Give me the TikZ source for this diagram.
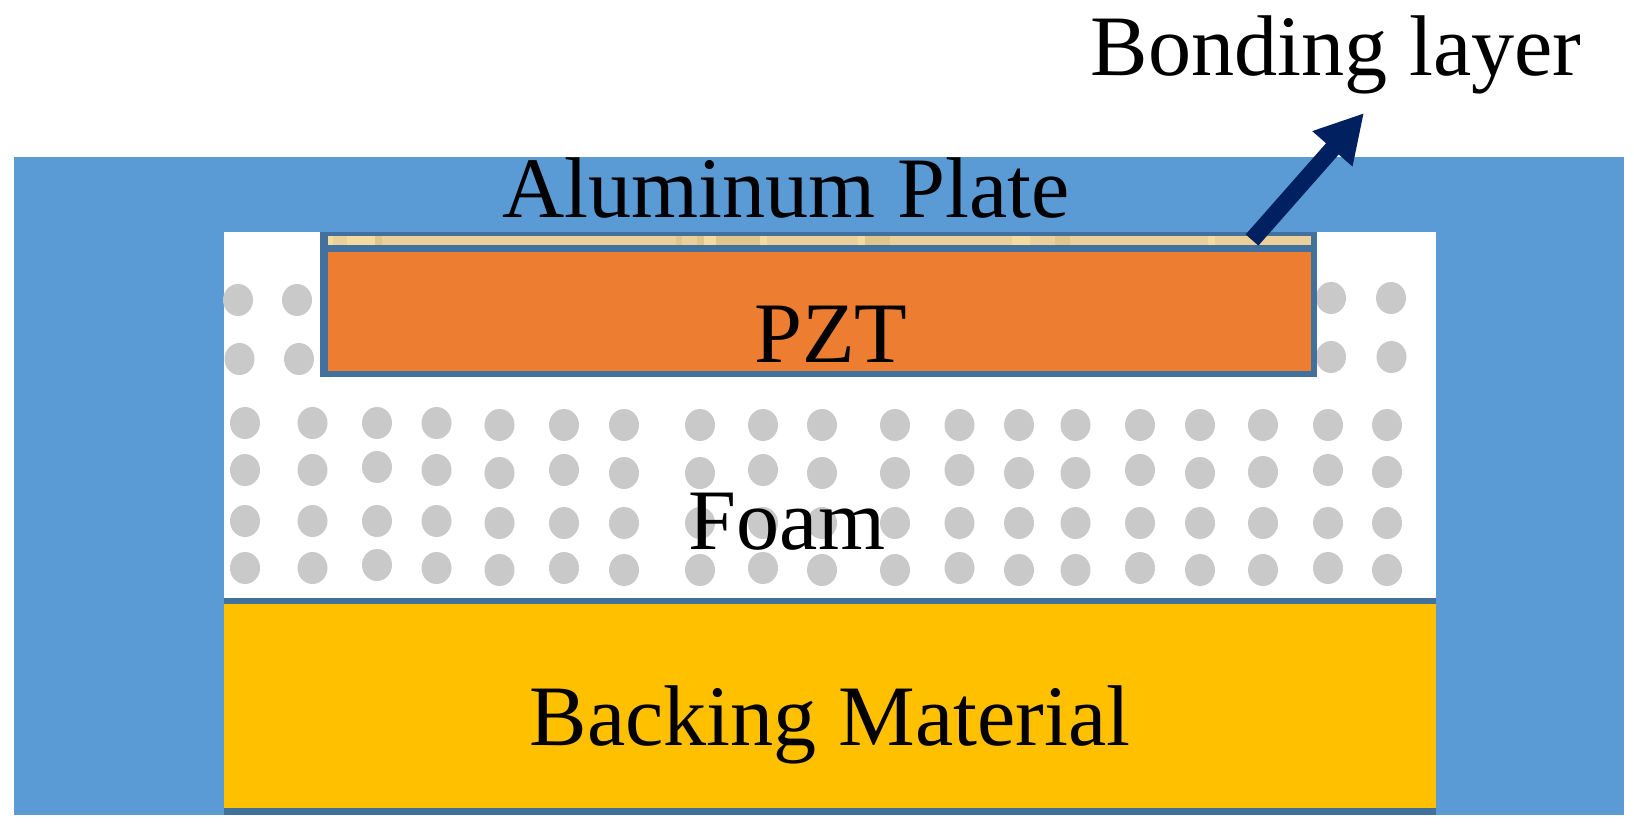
\documentclass[tikz,border=0pt]{standalone}
\usepackage{fontspec}
\setmainfont{Liberation Serif}
\usetikzlibrary{arrows.meta}
\definecolor{plateblue}{HTML}{5B9BD5}
\definecolor{edgeblue}{HTML}{41719C}
\definecolor{pztorange}{HTML}{ED7D31}
\definecolor{backyellow}{HTML}{FFC000}
\definecolor{bondtan}{HTML}{EBD09C}
\definecolor{bondlight}{HTML}{F4DCA0}
\definecolor{bonddark}{HTML}{E0C68C}
\definecolor{foamgray}{HTML}{C9C9C9}
\definecolor{arrownavy}{HTML}{002060}
\tikzset{
  layerlabel/.style={anchor=base,inner sep=0pt,font=\fontsize{24.5}{29}\selectfont},
  foamdot/.style={fill=foamgray},
  bondarrow/.style={draw=arrownavy,line width=4.8pt,-{Triangle[width=14.2pt,length=13.6pt]}}
}

\begin{document}
\begin{tikzpicture}[x=0.01cm,y=-0.01cm]
\useasboundingbox (0,0) rectangle (1634,824);
\fill[plateblue] (14,157) rectangle (1624,815);
\fill[white] (224,232) rectangle (1436,598);
% foam
\foreach \px/\py in {238/300,297/300,239.5/359,299/359,1331/298,1391/298,1331/357,1391.5/357}
  \fill[foamdot] (\px,\py) ellipse (15 and 16);
\foreach \px/\ya/\yb/\yc/\yd in {245/423/470/521/568,312.5/423/470/521/568,377/423/467/521/565,
    436.5/423/470/521/568,499.5/425/473/523/570,564/425/470/523/568,624/425/473/523/570,
    700/425/473/523/570,763/425/470/523/568,822/425/473/523/570,895/425/473/523/570,
    959.5/425/470/523/568,1019/425/473/523/570,1075.5/425/473/523/570,1140/425/470/523/568,
    1200/425/473/523/570,1263/425/472/523/570,1328/425/470/523/568,1387/425/472/523/570}
  \foreach \py in {\ya,\yb,\yc,\yd}
    \fill[foamdot] (\px,\py) ellipse (15 and 16);
% backing
\fill[edgeblue] (224,598) rectangle (1436,815);
\fill[backyellow] (224,604) rectangle (1436,808);
% pzt
\fill[edgeblue] (320,232) rectangle (1317,377);
\fill[bondtan] (327.5,236) rectangle (1311,245);
\foreach \xa/\xb/\shade in {327.5/333/bondlight,347/375/bondlight,375/382/bonddark,676/682/bonddark,
    697/704/bonddark,704/716/bondlight,716/760/bonddark,760/767/bondlight,858/865/bondlight,
    865/890/bonddark,1012/1030/bondlight,1055/1070/bonddark,1208/1215/bondlight}
  \fill[\shade] (\xa,236) rectangle (\xb,245);
\fill[pztorange] (327.5,252) rectangle (1311,371);
\node[layerlabel] (plate) at (786,217) {Aluminum Plate};
\node[layerlabel] (pzt) at (831,362.5) {PZT};
\node[layerlabel] (foam) at (787,549) {Foam};
\node[layerlabel] (backing) at (830,745) {Backing Material};
\node[layerlabel] (bonding) at (1336,75) {Bonding layer};
\coordinate (bondstart) at (1252,240);
\coordinate (bondtip) at (1364,113);
\draw[bondarrow] (bondstart) -- (bondtip);
\end{tikzpicture}
\end{document}
